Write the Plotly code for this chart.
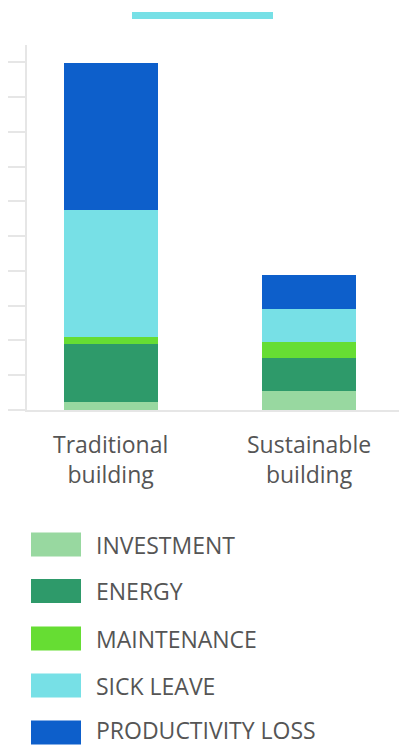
import plotly.graph_objects as go

# ---- data ----
categories = ["Traditional building", "Sustainable building"]
category_labels = ["Traditional<br>building", "Sustainable<br>building"]
series_names = ["INVESTMENT", "ENERGY", "MAINTENANCE", "SICK LEAVE", "PRODUCTIVITY LOSS"]
investment = [0.24, 0.55]
energy = [1.66, 0.96]
maintenance = [0.19, 0.44]
sick_leave = [3.66, 0.96]
productivity_loss = [4.24, 0.96]
series_values = [investment, energy, maintenance, sick_leave, productivity_loss]
colors = ["#98d8a0", "#2e9a6a", "#66dd33", "#77e0e6", "#0d5fcb"]
y_ticks = list(range(0, 11))

W, H = 399, 745
ML, MR, MT, MB = 27, 0, 45, 335
PW, PH = W - ML - MR, H - MT - MB

def px_x(px):
    return (px - ML) / PW

def px_y(py):
    return (H - MB - py) / PH

fig = go.Figure()
for name, vals, col in zip(series_names, series_values, colors):
    fig.add_trace(go.Bar(
        x=categories, y=vals, name=name, marker=dict(color=col, line=dict(width=0)),
        width=0.476, showlegend=False,
    ))

shapes = []
annotations = []
# top decorative line
shapes.append(dict(type="line", xref="paper", yref="paper",
                   x0=px_x(132), x1=px_x(273), y0=px_y(15.5), y1=px_y(15.5),
                   line=dict(color="#77e0e6", width=7)))
# category labels (two lines each)
for cat, lbl in zip(categories, category_labels):
    annotations.append(dict(xref="x", yref="paper", x=cat, y=px_y(459), text=lbl,
                            showarrow=False, xanchor="center", yanchor="middle",
                            borderpad=0,
                            font=dict(family="Open Sans", size=23, color="#555555")))
# manual legend
row_centers = [544.5, 591, 638.5, 685.5, 732.5]
for name, col, cy in zip(series_names, colors, row_centers):
    shapes.append(dict(type="rect", xref="paper", yref="paper",
                       x0=px_x(31), x1=px_x(81), y0=px_y(cy + 12), y1=px_y(cy - 12),
                       fillcolor=col, line=dict(width=0)))
    annotations.append(dict(xref="paper", yref="paper", x=px_x(95), y=px_y(min(cy, 729.5)),
                            text=name, showarrow=False, xanchor="left", yanchor="middle",
                            borderpad=0,
                            font=dict(family="Open Sans", size=23, color="#555555")))

fig.update_layout(
    barmode="stack",
    width=W, height=H,
    margin=dict(l=ML, r=MR, t=MT, b=MB),
    paper_bgcolor="white", plot_bgcolor="white",
    font=dict(family="Open Sans", size=20, color="#555555"),
    shapes=shapes, annotations=annotations,
    xaxis=dict(range=[-0.425, 1.458], showline=True, linecolor="#e6e6e6", linewidth=2,
               showgrid=False, ticks="", showticklabels=False, fixedrange=True),
    yaxis=dict(range=[0, 10.5], tickvals=y_ticks, showticklabels=False, ticks="outside",
               ticklen=17, tickwidth=2, tickcolor="#e6e6e6", showline=True,
               linecolor="#e6e6e6", linewidth=2, showgrid=False, zeroline=False,
               fixedrange=True),
)

fig.write_html("out.html")
